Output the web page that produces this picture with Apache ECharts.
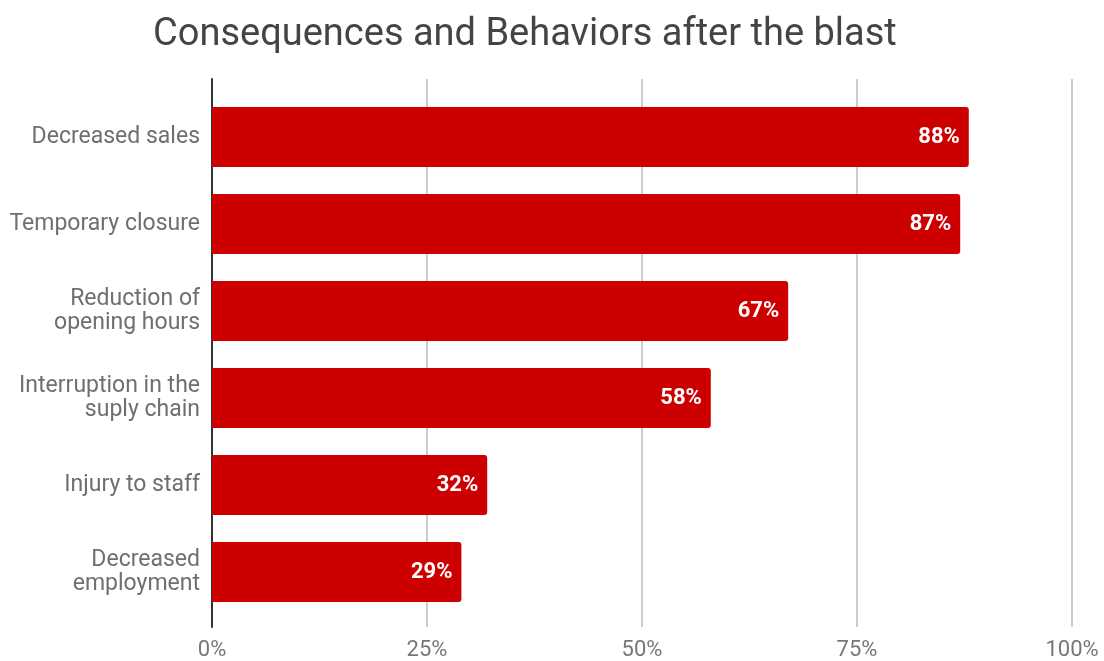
<!DOCTYPE html>
<html><head><meta charset="utf-8">
<script src="https://cdn.jsdelivr.net/npm/echarts@6/dist/echarts.min.js"></script>
<style>html,body{margin:0;padding:0;background:#fff}#c{width:1104px;height:661px}</style>
</head><body><div id="c"></div>
<script>
const categories = ["Decreased sales","Temporary closure","Reduction of\nopening hours","Interruption in the\nsuply chain","Injury to staff","Decreased\nemployment"];
const values = [88, 87, 67, 58, 32, 29];
const xTicks = [0, 25, 50, 75, 100];
const chart = echarts.init(document.getElementById('c'));
const font = 'Roboto, "Noto Sans", sans-serif';
chart.setOption({
  animation: false,
  title: { text: 'Consequences and Behaviors after the blast', left: 148, top: 11,
    textStyle: { fontFamily: font, fontSize: 38, fontWeight: 'normal', color: '#444' } },
  grid: [
    { left: 212, right: 32, top: 79, bottom: 31 },
    { left: 212, right: 32, top: 93.5, bottom: 45.5 }
  ],
  xAxis: [
    { gridIndex: 0, type: 'value', min: 0, max: 100, interval: 25,
      axisLine: { show: false }, axisTick: { show: false },
      splitLine: { lineStyle: { color: '#ccc', width: 2 } },
      axisLabel: { margin: 12, fontFamily: font, fontSize: 22, color: '#777', formatter: v => v + '%' } },
    { gridIndex: 1, type: 'value', min: 0, max: 100, show: false }
  ],
  yAxis: [
    { gridIndex: 0, type: 'category', data: [''], axisLine: { show: true, lineStyle: { color: '#333', width: 2 } },
      axisTick: { show: false }, axisLabel: { show: false } },
    { gridIndex: 1, type: 'category', inverse: true, data: categories,
      axisLine: { show: false }, axisTick: { show: false },
      axisLabel: { margin: 12, fontFamily: font, fontSize: 23, color: '#6f6f6f', lineHeight: 24, align: 'right' } }
  ],
  series: [{
    type: 'bar', xAxisIndex: 1, yAxisIndex: 1, data: values, barWidth: 60,
    itemStyle: { color: '#cc0000', borderRadius: [0, 3, 3, 0] },
    label: { show: true, position: 'insideRight', offset: [-4, 0], formatter: p => p.value + '%',
      fontFamily: font, fontSize: 22, fontWeight: 'bold', color: '#fff' }
  }]
});
</script></body></html>
